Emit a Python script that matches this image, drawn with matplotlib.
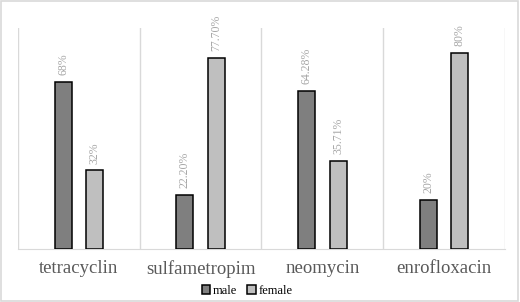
import matplotlib.pyplot as plt
import numpy as np

drugs = ['tetracyclin', 'sulfametropim', 'neomycin', 'enrofloxacin']
male = [68, 22.20, 64.28, 20]
female = [32, 77.70, 35.71, 80]
male_labels = ['68%', '22.20%', '64.28%', '20%']
female_labels = ['32%', '77.70%', '35.71%', '80%']

plt.rcParams['font.family'] = ['Liberation Serif', 'DejaVu Serif']

fig = plt.figure(figsize=(5.2, 3.02), dpi=100)
ax = fig.add_axes([0.0346, 0.1755, 0.9365, 0.7315])

# light frame around the whole chart
fig.patches.append(plt.Rectangle((0.002, 0.003), 0.995, 0.993, transform=fig.transFigure,
                                 fill=False, edgecolor='#d9d9d9', linewidth=1.2))

x = np.arange(len(drugs))
w = 0.14
off = 0.13
b1 = ax.bar(x - off, male, w, color='#7f7f7f', edgecolor='black', linewidth=1.1, label='male', zorder=3)
b2 = ax.bar(x + off, female, w, color='#bfbfbf', edgecolor='black', linewidth=1.1, label='female', zorder=3)

for bars, labels in ((b1, male_labels), (b2, female_labels)):
    for bar, lab in zip(bars, labels):
        ax.annotate(lab, (bar.get_x() + bar.get_width() / 2, bar.get_height()),
                    xytext=(0, 5), textcoords='offset points', rotation=90,
                    ha='center', va='bottom', fontsize=8.5, color='#a6a6a6')

ax.set_xlim(-0.5, len(drugs) - 0.5)
ax.set_ylim(0, 90)
for b in np.arange(len(drugs) + 1) - 0.5:
    ax.axvline(b, color='#d9d9d9', linewidth=1, zorder=1)

for s in ('left', 'right', 'top'):
    ax.spines[s].set_visible(False)
ax.spines['bottom'].set_color('#d9d9d9')
ax.set_yticks([])
ax.set_xticks(x)
ax.set_xticklabels(drugs, fontsize=13.5, color='#595959')
ax.tick_params(axis='x', length=0, pad=8)

fig.legend(loc='lower center', bbox_to_anchor=(0.475, -0.02), ncol=2, frameon=False,
           fontsize=9, handlelength=0.7, handleheight=0.7, handletextpad=0.2, columnspacing=0.8)

fig.savefig('out.png', dpi=100)
